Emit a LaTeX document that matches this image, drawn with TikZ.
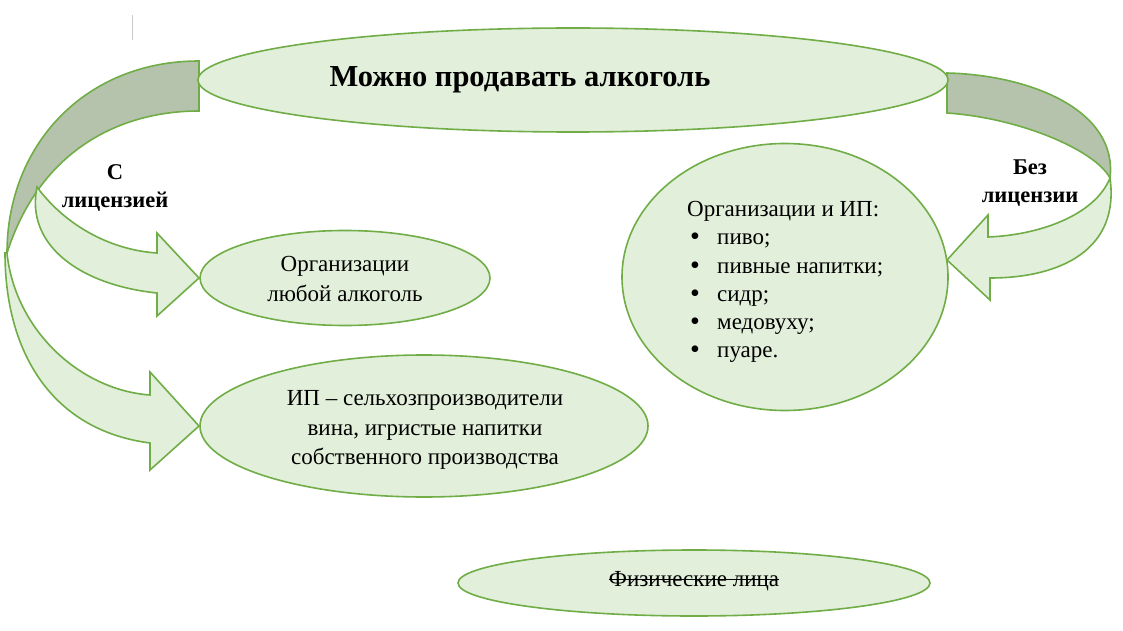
\documentclass[tikz,border=0pt]{standalone}
\usepackage{fontspec}
\setmainfont{Liberation Serif}
\usetikzlibrary{shapes.geometric}
\definecolor{lgreen}{HTML}{E2EFDA}
\definecolor{bgreen}{HTML}{70AD47}
\definecolor{gband}{HTML}{B5C3AD}
\tikzset{
  oval/.style={ellipse, draw=bgreen, fill=lgreen, line width=1.6pt, inner sep=0pt},
  band/.style={draw=bgreen, line width=1.6pt, line join=miter},
  greenband/.style={band, fill=lgreen},
  grayband/.style={band, fill=gband},
  txt/.style={font=\fontsize{23}{29.5}\selectfont, align=center, inner sep=0pt},
  btxt/.style={font=\fontsize{22.5}{28}\selectfont\bfseries, align=center, inner sep=0pt},
}
\newcommand{\blt}{\hspace*{3pt}\makebox[27pt][l]{\raisebox{-1pt}{\fontsize{28}{28}\selectfont •}}}
\begin{document}
\begin{tikzpicture}[x=1pt, y=-1pt]
\useasboundingbox (0,0) rectangle (1123,631);
% cursor mark
\draw[black!20, line width=1pt] (132,15) -- (132,40);
% left gray band
\path[grayband] (199,61) -- (199,111) .. controls (120,111) and (40,150) .. (7,253)
  .. controls (7,145) and (85,61) .. (199,61) -- cycle;
% left upper green arrow
\path[greenband] (37,187) .. controls (65,225) and (110,250) .. (157,253)
  -- (157,233) -- (199,278) -- (157,316) -- (157,293)
  .. controls (80,285) and (25,245) .. (37,187) -- cycle;
% left lower green arrow
\path[greenband] (7,253) .. controls (15,330) and (80,390) .. (150,395)
  -- (150,372) -- (199,426) -- (150,470) -- (150,443)
  .. controls (50,430) and (5,350) .. (5,253) -- cycle;
% right gray band
\path[grayband] (947,73) -- (947,113) .. controls (1020,118) and (1095,150) .. (1110,178)
  .. controls (1118,110) and (1030,75) .. (947,73) -- cycle;
% right green arrow
\path[greenband] (1110,178) .. controls (1120,250) and (1060,278) .. (990,278)
  -- (990,300) -- (947,260) -- (988,215) -- (988,237)
  .. controls (1040,235) and (1095,215) .. (1110,178) -- cycle;
% ellipses
\node[oval, minimum width=750pt, minimum height=104pt] (top) at (573,80) {};
\node[btxt, font=\fontsize{30.5}{34}\selectfont\bfseries] (title) at (520,80) {Можно продавать алкоголь};
\node[oval, minimum width=290pt, minimum height=95pt] (org) at (345,278) {};
\node[txt] (orgtxt) at (345,279) {Организации\\любой алкоголь};
\node[oval, minimum width=448pt, minimum height=142pt] (ip) at (424,426) {};
\node[txt] (iptxt) at (425,430) {ИП – сельхозпроизводители\\вина, игристые напитки\\собственного производства};
\node[oval, minimum width=326pt, minimum height=267pt] (circ) at (785,277) {};
\node[txt, align=left, anchor=west, font=\fontsize{23}{28.2}\selectfont] (list) at (687,282) {Организации и ИП:\\
\blt пиво;\\
\blt пивные напитки;\\
\blt сидр;\\
\blt медовуху;\\
\blt пуаре.};
\node[oval, minimum width=472pt, minimum height=66pt] (fiz) at (694,583) {};
\node[txt] (fiztxt) at (694,581) {Физические лица};
\draw[line width=1pt] ([yshift=6.5pt]fiztxt.base west) -- ([yshift=6.5pt]fiztxt.base east);
% side labels
\node[btxt] (slic) at (115,188) {С\\лицензией};
\node[btxt] (bezlic) at (1030,183) {Без\\лицензии};
\end{tikzpicture}
\end{document}
